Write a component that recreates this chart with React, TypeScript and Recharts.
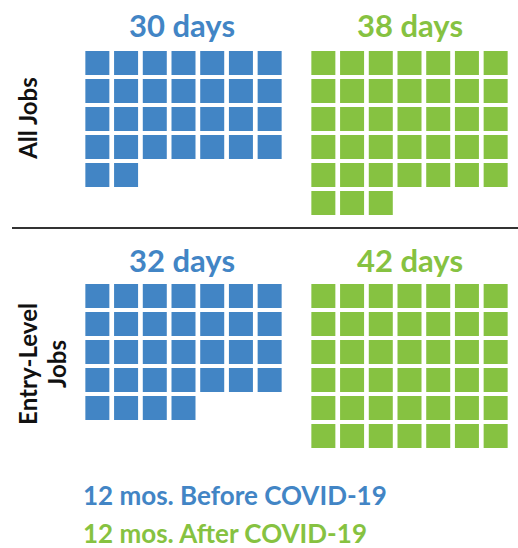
import React from "react";
import { Scatter, ScatterChart, XAxis, YAxis } from "recharts";

// waffle chart: one square per day
const categories = ["All Jobs", "Entry-Level Jobs"];
const periods = ["12 mos. Before COVID-19", "12 mos. After COVID-19"];
const beforeDays = [30, 32];
const afterDays = [38, 42];
const colors = ["#4285c5", "#86c241"];

const COLS = 7;
const ROWS = 6;
const PITCH_X = 28.67;
const PITCH_Y = 28;
const SQUARE = 24;
const FONT = "Lato, 'Open Sans', sans-serif";

type WaffleProps = {
  count: number;
  color: string;
  left: number;
  top: number;
};

function Waffle({ count, color, left, top }: WaffleProps) {
  const cells = Array.from({ length: count }, (_, i) => ({
    col: (i % COLS) + 0.5,
    row: Math.floor(i / COLS) + 0.5,
  }));

  return (
    <div style={{ position: "absolute", left, top }}>
      <ScatterChart
        width={Math.round(COLS * PITCH_X)}
        height={ROWS * PITCH_Y}
        margin={{ top: 0, right: 0, bottom: 0, left: 0 }}
      >
        <XAxis type="number" dataKey="col" domain={[0, COLS]} hide />
        <YAxis type="number" dataKey="row" domain={[0, ROWS]} reversed hide />
        <Scatter
          data={cells}
          fill={color}
          isAnimationActive={false}
          shape={(p: any) => (
            <rect
              x={p.cx - SQUARE / 2}
              y={p.cy - SQUARE / 2}
              width={SQUARE}
              height={SQUARE}
              fill={color}
            />
          )}
        />
      </ScatterChart>
    </div>
  );
}

const panelTops = [49, 282];
const panelLefts = [82.7, 308.7];
const titleBaselines = [37, 272];

export default function App() {
  return (
    <div
      style={{
        position: "absolute",
        left: 0,
        top: 0,
        width: 518,
        height: 548,
        background: "#fff",
        fontFamily: FONT,
      }}
    >
      {categories.map((cat, r) => (
        <React.Fragment key={cat}>
          <Waffle
            count={beforeDays[r]}
            color={colors[0]}
            left={panelLefts[0]}
            top={panelTops[r]}
          />
          <Waffle
            count={afterDays[r]}
            color={colors[1]}
            left={panelLefts[1]}
            top={panelTops[r]}
          />
        </React.Fragment>
      ))}

      <svg
        width={518}
        height={548}
        style={{ position: "absolute", left: 0, top: 0, pointerEvents: "none" }}
      >
        {categories.map((cat, r) => (
          <g key={cat} fontWeight="bold" fontSize={31} textAnchor="middle">
            <text x={182} y={titleBaselines[r]} fill={colors[0]}>
              {beforeDays[r]} days
            </text>
            <text x={410} y={titleBaselines[r]} fill={colors[1]}>
              {afterDays[r]} days
            </text>
          </g>
        ))}

        <text
          transform="translate(37,118) rotate(-90)"
          textAnchor="middle"
          fontWeight="bold"
          fontSize={24}
          fill="#111"
        >
          {categories[0]}
        </text>
        <text
          transform="translate(37,364) rotate(-90)"
          textAnchor="middle"
          fontWeight="bold"
          fontSize={24}
          fill="#111"
        >
          <tspan x={0} dy={0}>Entry-Level</tspan>
          <tspan x={0} dy={29}>Jobs</tspan>
        </text>

        <line x1={12} x2={518} y1={228} y2={228} stroke="#333" strokeWidth={2} />

        {periods.map((p, i) => (
          <text
            key={p}
            x={83}
            y={505 + i * 38}
            fontWeight="bold"
            fontSize={26}
            fill={colors[i]}
          >
            {p}
          </text>
        ))}
      </svg>
    </div>
  );
}
